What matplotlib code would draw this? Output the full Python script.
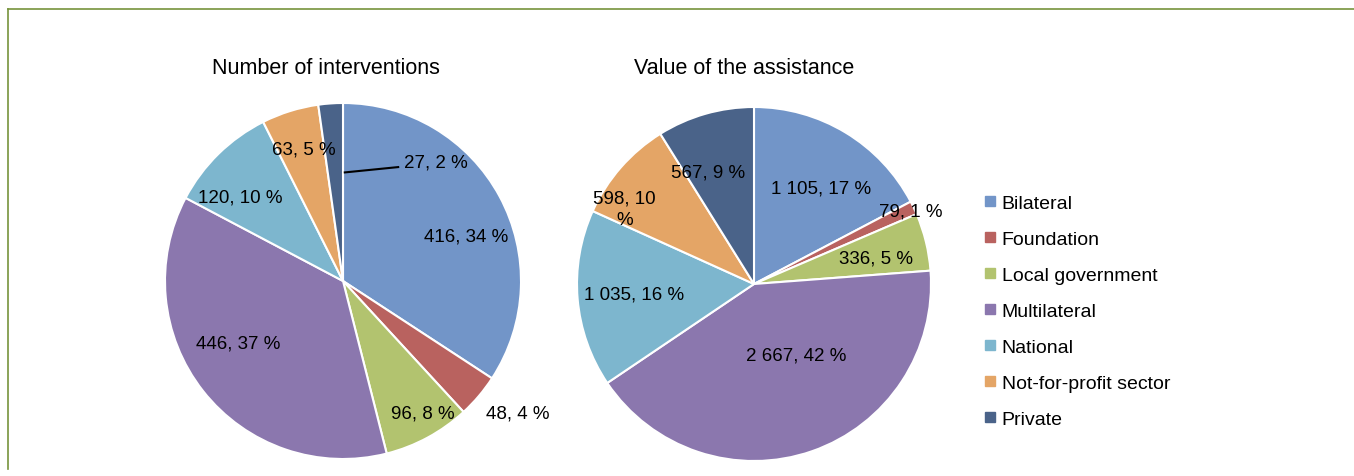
import matplotlib
matplotlib.use("Agg")
import matplotlib.pyplot as plt
from matplotlib.lines import Line2D

plt.rcParams['font.family'] = ['Liberation Sans', 'DejaVu Sans']

categories = ["Bilateral", "Foundation", "Local government", "Multilateral",
              "National", "Not-for-profit sector", "Private"]
interventions = [416, 48, 96, 446, 120, 63, 27]
interventions_pct = [34, 4, 8, 37, 10, 5, 2]
assistance = [1105, 79, 336, 2667, 1035, 598, 567]
assistance_pct = [17, 1, 5, 42, 16, 10, 9]
colors = ["#7295C8", "#B9625F", "#B2C36F", "#8B77AE", "#7DB6CE", "#E4A566", "#4A6389"]

W, H = 1354, 477
fig = plt.figure(figsize=(W / 100, H / 100), dpi=100)

# frame lines (top and left)
fig.add_artist(Line2D([8 / W, 1.0], [1 - 10 / H, 1 - 10 / H], color="#77933C", lw=1.2))
fig.add_artist(Line2D([8 / W, 8 / W], [1 - 10 / H, 1 - 470 / H], color="#77933C", lw=1.2))


def fmt(v):
    return f"{v:,}".replace(",", " ")


def make_axes(cx, cy, r):
    ax = fig.add_axes([(cx - r) / W, (H - cy - r) / H, 2 * r / W, 2 * r / H])
    return ax


def finish(ax):
    ax.set_xlim(-1, 1)
    ax.set_ylim(-1, 1)
    ax.set_aspect("auto")
    ax.axis("off")


# --- left pie ---
ax1 = make_axes(343, 282, 178)
ax1.pie(interventions, colors=colors, startangle=90, counterclock=False, radius=1,
        wedgeprops=dict(edgecolor="white", linewidth=1.5))
finish(ax1)
lab_pos1 = [(0.69, 0.25), (0.98, -0.74), (0.45, -0.74), (-0.59, -0.35),
            (-0.58, 0.47), (-0.22, 0.74), (0.52, 0.67)]
for v, p, pos in zip(interventions, interventions_pct, lab_pos1):
    ax1.text(pos[0], pos[1], f"{fmt(v)}, {p} %", ha="center", va="center",
             fontsize=13.5, color="black", clip_on=False)
ax1.plot([0.01, 0.31], [0.61, 0.64], color="black", lw=1.5, clip_on=False)
fig.text(326 / W, 1 - 69 / H, "Number of interventions", ha="center", va="center", fontsize=15.5)

# --- right pie ---
ax2 = make_axes(754, 285, 177)
ax2.pie(assistance, colors=colors, startangle=90, counterclock=False, radius=1,
        wedgeprops=dict(edgecolor="white", linewidth=1.5))
finish(ax2)
lab_pos2 = [(0.38, 0.545), (0.885, 0.415), (0.69, 0.145), (0.24, -0.40),
            (-0.68, -0.055), (-0.73, 0.425), (-0.26, 0.63)]
for i, (v, p, pos) in enumerate(zip(assistance, assistance_pct, lab_pos2)):
    txt = f"{fmt(v)}, {p} %"
    if i == 5:
        txt = f"{fmt(v)}, {p}\n%"
    ax2.text(pos[0], pos[1], txt, ha="center", va="center", fontsize=13.5,
             color="black", clip_on=False, linespacing=1.4)
fig.text(744 / W, 1 - 69 / H, "Value of the assistance", ha="center", va="center", fontsize=15.5)

# --- legend ---
handles = [Line2D([0], [0], marker="s", linestyle="none", markersize=6.5,
                  markerfacecolor=c, markeredgecolor=c) for c in colors]
fig.legend(handles, categories, loc="upper left",
           bbox_to_anchor=(984 / W, 1 - 195 / H), frameon=False, fontsize=14,
           handlelength=0.6, handletextpad=0.3, labelspacing=0.95,
           borderaxespad=0, borderpad=0)

fig.savefig("out.png", dpi=100, facecolor="white")
